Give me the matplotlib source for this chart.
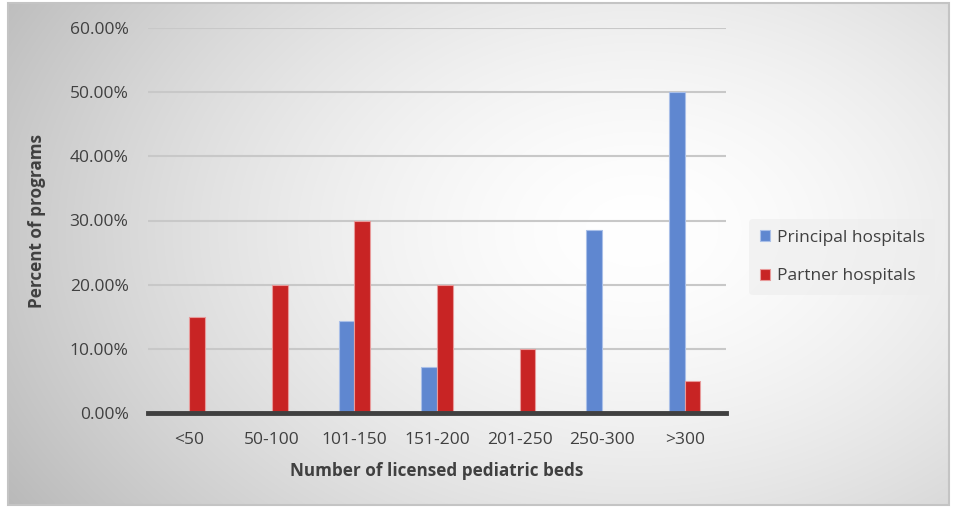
import numpy as np
import matplotlib.pyplot as plt
from matplotlib.patches import Rectangle
from matplotlib.ticker import FuncFormatter

plt.rcParams['font.family'] = ['Open Sans', 'DejaVu Sans']

# data
categories = ['<50', '50-100', '101-150', '151-200', '201-250', '250-300', '>300']
principal = [0.0, 0.0, 14.29, 7.14, 0.0, 28.57, 50.0]
partner = [15.0, 20.0, 30.0, 20.0, 10.0, 0.0, 5.0]
series_names = ['Principal hospitals', 'Partner hospitals']

W, H = 957, 508
fig = plt.figure(figsize=(W / 100, H / 100), dpi=100)

# radial gradient background inside a framed box
bg = fig.add_axes([0, 0, 1, 1])
bg.set_xlim(0, W)
bg.set_ylim(H, 0)
bg.axis('off')
yy, xx = np.mgrid[0:H, 0:W]
r = np.sqrt(((xx - 640) / 640.0) ** 2 + ((yy - 230) / 440.0) ** 2)
shade = 1.0 - 0.21 * np.clip(r, 0, 1.2) ** 1.6
img = np.dstack([shade, shade, shade])
bg.imshow(img, extent=(8, 949, 505, 3), zorder=0, interpolation='bilinear')
bg.add_patch(Rectangle((8, 3), 941, 502, fill=False, edgecolor='#c4c4c4', lw=1.5, zorder=1))

ax = fig.add_axes([148 / W, 1 - 413 / H, (726 - 148) / W, (413 - 28) / H])
ax.patch.set_alpha(0)

x = np.arange(len(categories))
w = 0.19
ax.bar(x - w / 2, principal, w, color='#5f87d0', edgecolor='#a9bfe8', linewidth=0.8,
       label=series_names[0], zorder=3)
ax.bar(x + w / 2, partner, w, color='#c82424', edgecolor='#e89a9a', linewidth=0.8,
       label=series_names[1], zorder=3)

ax.set_xlim(-0.5, len(categories) - 0.5)
ax.set_ylim(0, 60)
ax.set_yticks(np.arange(0, 61, 10))
ax.yaxis.set_major_formatter(FuncFormatter(lambda v, p: f'{v:.2f}%'))
ax.set_xticks(x)
ax.set_xticklabels(categories)
ax.grid(axis='y', color='#c8c8c8', linewidth=1.5, zorder=1)
for s in ['top', 'right', 'left']:
    ax.spines[s].set_visible(False)
ax.spines['bottom'].set_color('#404040')
ax.spines['bottom'].set_linewidth(3.5)
ax.spines['bottom'].set_zorder(4)
ax.tick_params(axis='both', length=0, labelsize=12.5, colors='#404040')
ax.tick_params(axis='y', pad=14)
ax.tick_params(axis='x', pad=14)
ax.set_xlabel('Number of licensed pediatric beds', fontsize=12.3, fontweight='bold',
              color='#404040', labelpad=10)
ax.set_ylabel('Percent of programs', fontsize=12.3, fontweight='bold', color='#404040', labelpad=17)

leg = ax.legend(loc='center left', bbox_to_anchor=(1.025, 0.405), frameon=True, fontsize=12.5,
                handlelength=0.6, handleheight=0.6, handletextpad=0.4, labelspacing=1.3,
                borderpad=0.6, labelcolor='#404040')
leg.get_frame().set_facecolor('#ededed')
leg.get_frame().set_edgecolor('none')
leg.get_frame().set_alpha(0.6)

plt.savefig('out.png', dpi=100)
